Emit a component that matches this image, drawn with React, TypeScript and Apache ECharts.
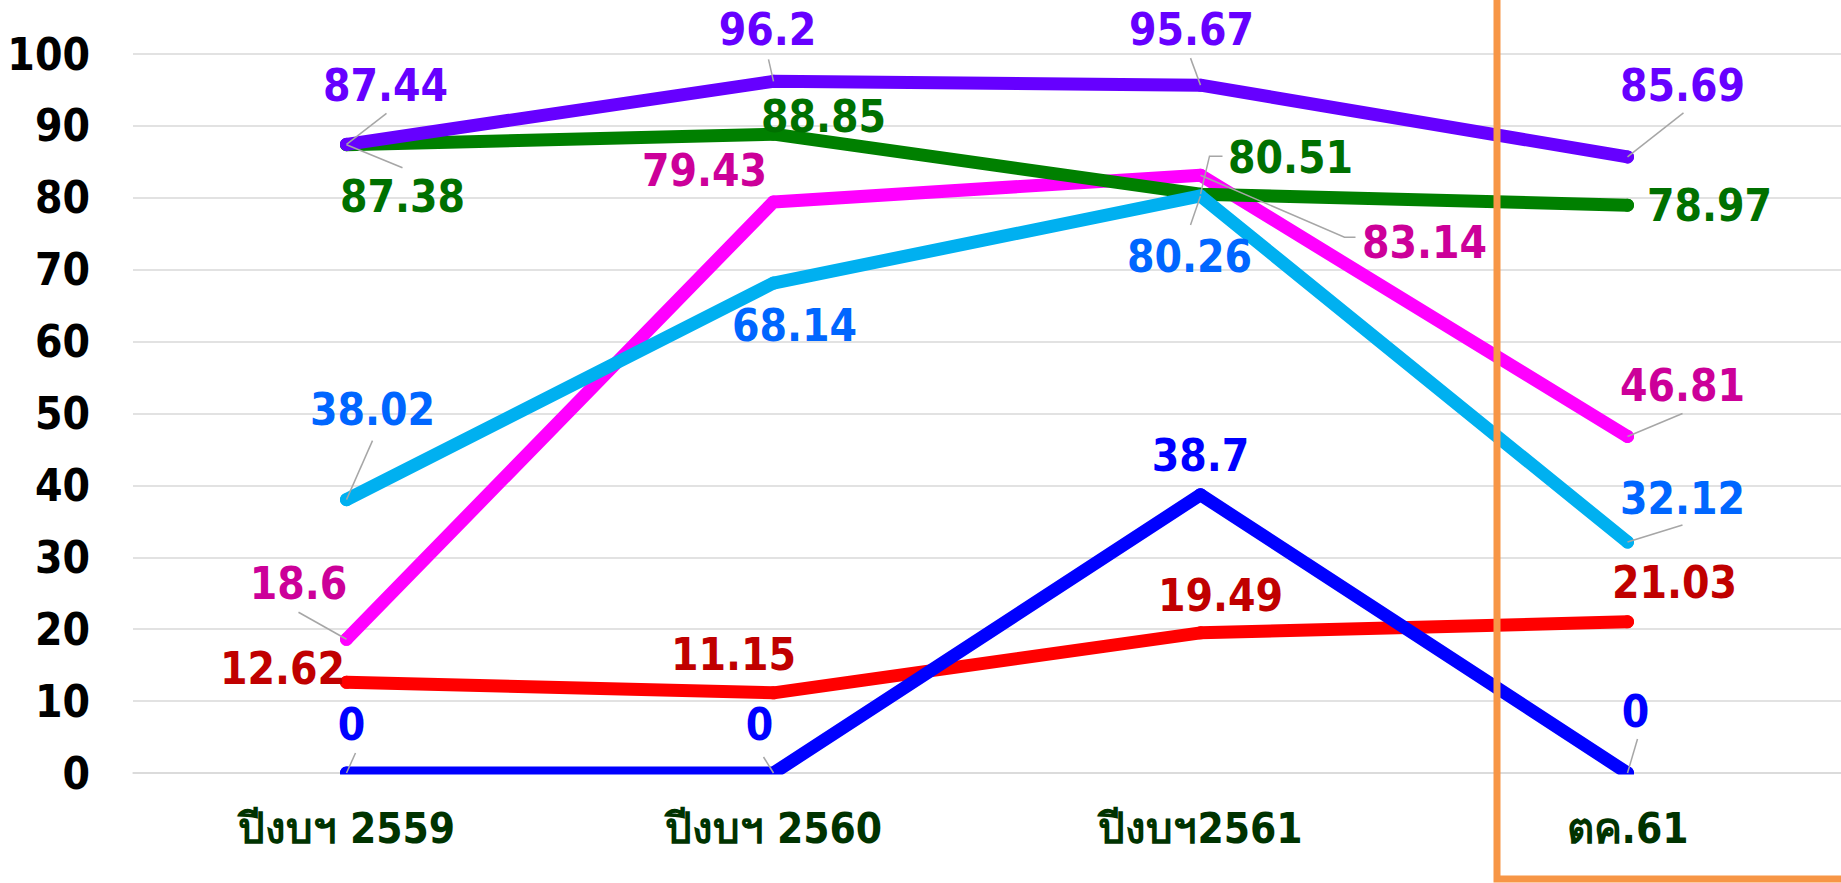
import React, { useEffect, useRef } from "react";
import * as echarts from "echarts";

// ---- data ----
const categories = ["ปีงบฯ 2559", "ปีงบฯ 2560", "ปีงบฯ2561", "ตค.61"];
const purpleValues = [87.44, 96.2, 95.67, 85.69];
const greenValues = [87.38, 88.85, 80.51, 78.97];
const magentaValues = [18.6, 79.43, 83.14, 46.81];
const cyanValues = [38.02, 68.14, 80.26, 32.12];
const blueValues = [0, 0, 38.7, 0];
const redValues = [12.62, 11.15, 19.49, 21.03];
const yMin = 0;
const yMax = 100;
const yInterval = 10;

// ---- label placement (styling, px offsets from the point) ----
const purpleOffsets = [[39, -59], [-6, -52], [-9, -56], [55, -71]];
const greenOffsets = [[56, 52], [50, -18], [90, -37], [82, 0]];
const magentaOffsets = [[-48, -56], [-69, -31], [224, 67], [55, -51]];
const cyanOffsets = [[26, -90], [21, 42], [-11, 61], [55, -44]];
const blueOffsets = [[5, -49], [-14, -49], [0, -39], [8, -62]];
const redOffsets = [[-64, -14], [-40, -38], [20, -37], [47, -39]];

// leader line bends/ends, px offsets from the point (null = no leader)
type Leader = number[][] | null;
const purpleLeaders: Leader[] = [[[40, -31]], [[-5, -22]], [[-10, -27]], [[56, -44]]];
const greenLeaders: Leader[] = [[[56, 23]], null, [[9, -38], [22, -38]], null];
const magentaLeaders: Leader[] = [[[-48, -27]], null, [[144, 62], [155, 62]], [[55, -23]]];
const cyanLeaders: Leader[] = [[[26, -59]], null, [[-10, 29]], [[55, -17]]];
const blueLeaders: Leader[] = [[[9, -20]], [[-10, -16]], null, [[10, -34]]];
const redLeaders: Leader[] = [null, null, null, null];

const FONT = "'DejaVu Sans Condensed', 'DejaVu Sans', Tahoma, sans-serif";

type Def = {
  name: string;
  values: number[];
  line: string;
  label: string;
  offsets: number[][];
  leaders: Leader[];
};

// drawing order: bottom to top
const defs: Def[] = [
  { name: "red", values: redValues, line: "#FF0000", label: "#C00000", offsets: redOffsets, leaders: redLeaders },
  { name: "magenta", values: magentaValues, line: "#FF00FF", label: "#CC0099", offsets: magentaOffsets, leaders: magentaLeaders },
  { name: "green", values: greenValues, line: "#008000", label: "#007000", offsets: greenOffsets, leaders: greenLeaders },
  { name: "cyan", values: cyanValues, line: "#00B0F0", label: "#0066FF", offsets: cyanOffsets, leaders: cyanLeaders },
  { name: "blue", values: blueValues, line: "#0000FF", label: "#0000FF", offsets: blueOffsets, leaders: blueLeaders },
  { name: "purple", values: purpleValues, line: "#6600FF", label: "#6600FF", offsets: purpleOffsets, leaders: purpleLeaders },
];

const LINE_W = 13;

export default function App() {
  const ref = useRef<HTMLDivElement>(null);

  useEffect(() => {
    if (!ref.current) return;
    const chart = echarts.init(ref.current, undefined, { renderer: "svg" });

    const series = defs.map((d, si) => ({
      name: d.name,
      type: "line",
      z: 2 + si,
      data: d.values,
      symbol: "circle",
      symbolSize: LINE_W,
      showSymbol: true,
      itemStyle: { color: d.line },
      lineStyle: { color: d.line, width: LINE_W, cap: "round", join: "round" },
      label: {
        show: true,
        position: "inside",
        color: d.label,
        fontFamily: FONT,
        fontWeight: "bold",
        fontSize: 44,
      },
      labelLayout: (p: any) => ({
        dx: d.offsets[p.dataIndex][0],
        dy: d.offsets[p.dataIndex][1],
      }),
      emphasis: { disabled: true },
    }));

    const baseGraphics: any[] = [
      {
        type: "rect",
        z: 100,
        silent: true,
        shape: { x: 133, y: 774.5, width: 1713, height: 18 },
        style: { fill: "#ffffff" },
      },
      {
        type: "rect",
        z: 101,
        silent: true,
        shape: { x: 1497, y: -20, width: 500, height: 899 },
        style: { fill: "none", stroke: "#F79646", lineWidth: 7 },
      },
    ];

    chart.setOption({
      animation: false,
      backgroundColor: "#ffffff",
      grid: { left: 133, top: 54, width: 1713, height: 719, containLabel: false },
      xAxis: {
        type: "category",
        data: categories,
        boundaryGap: true,
        axisLine: { show: true, lineStyle: { color: "#D9D9D9", width: 1.5 } },
        axisTick: { show: false },
        axisLabel: {
          color: "#003300",
          fontFamily: FONT,
          fontWeight: "bold",
          fontSize: 42,
          margin: 34,
          interval: 0,
        },
      },
      yAxis: {
        type: "value",
        min: yMin,
        max: yMax,
        interval: yInterval,
        axisLine: { show: false },
        axisTick: { show: false },
        splitLine: { show: true, lineStyle: { color: "#D9D9D9", width: 1.5 } },
        axisLabel: {
          color: "#000000",
          fontFamily: FONT,
          fontWeight: "bold",
          fontSize: 44,
          margin: 43,
        },
      },
      graphic: baseGraphics,
      series,
    });

    // leader lines, anchored at points converted through the chart's own scales
    const leaderGraphics: any[] = [];
    defs.forEach((d, si) => {
      d.leaders.forEach((l, i) => {
        if (!l) return;
        const p = chart.convertToPixel({ seriesIndex: si }, [i, d.values[i]]) as number[];
        const pts = [p, ...l.map((o) => [p[0] + o[0], p[1] + o[1]])];
        leaderGraphics.push({
          type: "polyline",
          z: 50,
          silent: true,
          shape: { points: pts },
          style: { stroke: "#A6A6A6", lineWidth: 1.5, fill: null },
        });
      });
    });
    chart.setOption({ graphic: [...baseGraphics, ...leaderGraphics] });

    return () => chart.dispose();
  }, []);

  return (
    <div
      ref={ref}
      style={{ position: "fixed", left: 0, top: 0, width: 1841, height: 883, background: "#fff" }}
    />
  );
}
